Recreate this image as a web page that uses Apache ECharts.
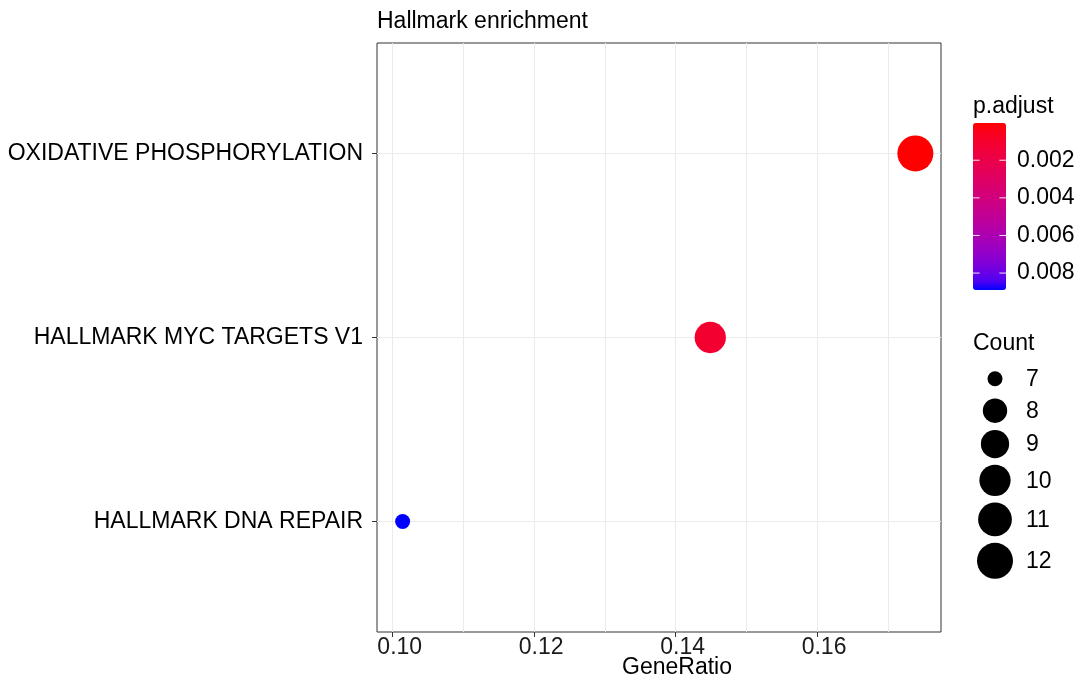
<!DOCTYPE html>
<html>
<head>
<meta charset="utf-8">
<script src="https://cdn.jsdelivr.net/npm/echarts@6/dist/echarts.min.js"></script>
<style>
html,body{margin:0;padding:0;background:#fff;}
#chart{width:1090px;height:680px;}
</style>
</head>
<body>
<div id="chart"></div>
<script>
// ---- data ----
const categories = ['HALLMARK DNA REPAIR', 'HALLMARK MYC TARGETS V1', 'OXIDATIVE PHOSPHORYLATION'];
const geneRatio = [0.1014, 0.1449, 0.1739];
const counts = [7, 10, 12];
const pAdjust = [0.0089, 0.0011, 0.00002];
const xTicks = [0.10, 0.12, 0.14, 0.16];
const xMinorTicks = [0.11, 0.13, 0.15, 0.17];
const pTicks = [0.002, 0.004, 0.006, 0.008];
const countBreaks = [7, 8, 9, 10, 11, 12];
const titleText = 'Hallmark enrichment';

// ---- colour scale (Lab interpolation red -> blue, like ggplot) ----
function s2l(c){c/=255;return c<=0.04045?c/12.92:Math.pow((c+0.055)/1.055,2.4);}
function l2s(c){c=c<=0.0031308?12.92*c:1.055*Math.pow(c,1/2.4)-0.055;return Math.round(Math.max(0,Math.min(1,c))*255);}
const Xn=0.95047,Yn=1,Zn=1.08883;
function f(t){return t>0.008856?Math.cbrt(t):7.787*t+16/116;}
function fi(t){return t>0.206893?t*t*t:(t-16/116)/7.787;}
function rgb2lab(rgb){
  const r=s2l(rgb[0]),g=s2l(rgb[1]),b=s2l(rgb[2]);
  const X=0.4124*r+0.3576*g+0.1805*b, Y=0.2126*r+0.7152*g+0.0722*b, Z=0.0193*r+0.1192*g+0.9505*b;
  const fx=f(X/Xn),fy=f(Y/Yn),fz=f(Z/Zn);
  return [116*fy-16,500*(fx-fy),200*(fy-fz)];
}
function lab2rgb(lab){
  const fy=(lab[0]+16)/116, fx=fy+lab[1]/500, fz=fy-lab[2]/200;
  const X=Xn*fi(fx),Y=Yn*fi(fy),Z=Zn*fi(fz);
  const r=3.2406*X-1.5372*Y-0.4986*Z, g=-0.9689*X+1.8758*Y+0.0415*Z, b=0.0557*X-0.2040*Y+1.0570*Z;
  return 'rgb('+l2s(r)+','+l2s(g)+','+l2s(b)+')';
}
const labLow=rgb2lab([255,0,0]), labHigh=rgb2lab([0,0,255]);
const colorStops=[];
for(let i=0;i<=20;i++){const t=i/20;colorStops.push(lab2rgb([0,1,2].map(k=>labLow[k]+(labHigh[k]-labLow[k])*t)));}

// ---- scales ----
const pMin=Math.min(...pAdjust), pMax=Math.max(...pAdjust);
const cMin=Math.min(...counts), cMax=Math.max(...counts);
const dMin=15, dMax=36;
function sizeOf(c){return dMin+Math.sqrt((c-cMin)/(cMax-cMin))*(dMax-dMin);}
const xr=[Math.min(...geneRatio),Math.max(...geneRatio)];
const xpad=(xr[1]-xr[0])*0.05;

const points=categories.map((c,i)=>[geneRatio[i], i+1, pAdjust[i], counts[i], c]);

const font='"Liberation Sans", Arial, sans-serif';
const FS=23;

// ---- size legend (graphic) ----
const legendGraphics=[];
let y=378.7, prevH=null;
countBreaks.forEach((c,i)=>{
  const d=sizeOf(c);
  const h=Math.max(d+6.5,32);
  if(prevH!==null) y+= (prevH+h)/2;
  prevH=h;
  legendGraphics.push({type:'circle',shape:{cx:995,cy:y,r:d/2},style:{fill:'#000'},silent:true});
  legendGraphics.push({type:'text',x:1026,y:y+1,style:{text:String(c),font:FS+'px '+font,fill:'#000',textVerticalAlign:'middle'},silent:true});
});

const chart=echarts.init(document.getElementById('chart'),null,{renderer:'canvas'});
chart.setOption({
  animation:false,
  backgroundColor:'#fff',
  grid:[
    {left:377,right:149,top:43,bottom:48,show:true,borderColor:'#333',borderWidth:1,backgroundColor:'transparent',containLabel:false,outerBoundsMode:'none'},
    {left:973,top:123,width:33,height:167,show:false,containLabel:false,outerBoundsMode:'none'}
  ],
  xAxis:[
    {type:'value',gridIndex:0,min:xr[0]-xpad,max:xr[1]+xpad,
     axisLine:{show:false},
     axisTick:{show:true,length:5,lineStyle:{color:'#333'},customValues:xTicks},
     axisLabel:{customValues:xTicks,formatter:v=>v.toFixed(2),fontSize:FS,fontFamily:font,color:'#1a1a1a',margin:4,padding:[0,0,0,14]},
     splitLine:{show:false},
     name:'GeneRatio',nameLocation:'middle',nameGap:24,nameMoveOverlap:false,
     nameTextStyle:{fontSize:FS,fontFamily:font,color:'#000',padding:[0,0,0,36]}},
    {type:'value',gridIndex:1,show:false,min:0,max:1}
  ],
  yAxis:[
    {type:'value',gridIndex:0,min:0.4,max:3.6,
     axisLine:{show:false},
     axisTick:{show:true,length:5,lineStyle:{color:'#333'},customValues:[1,2,3]},
     axisLabel:{customValues:[1,2,3],formatter:v=>categories[Math.round(v)-1]||'',fontSize:FS,fontFamily:font,color:'#000',margin:14,padding:[8,0,0,0]},
     splitLine:{show:false}},
    {type:'value',gridIndex:1,min:pMin,max:pMax,inverse:true,position:'right',z:10,
     axisLine:{show:false},
     axisTick:{show:false},
     axisLabel:{customValues:pTicks,formatter:v=>v.toFixed(3),fontSize:FS,fontFamily:font,color:'#000',margin:11,padding:[4,0,0,0]},
     splitLine:{show:false}}
  ],
  visualMap:[{
    type:'continuous',show:true,seriesIndex:1,dimension:2,min:pMin,max:pMax,inverse:true,
    left:973,top:123,itemWidth:33,itemHeight:167,padding:0,calculable:false,hoverLink:false,
    text:null,showLabel:false,inRange:{color:colorStops},orient:'vertical',z:2
  }],
  series:[
    {type:'line',xAxisIndex:0,yAxisIndex:0,data:[],z:1,silent:true,
     markLine:{silent:true,z:1,symbol:['none','none'],label:{show:false},animation:false,
       lineStyle:{color:'#ebebeb',width:1,type:'solid'},
       data:[...xTicks,...xMinorTicks].map(v=>({xAxis:v})).concat([1,2,3].map(v=>({yAxis:v})))}},
    {type:'scatter',xAxisIndex:0,yAxisIndex:0,data:points,z:10,
     encode:{x:0,y:1},
     symbolSize:v=>sizeOf(v[3]),
     itemStyle:{opacity:1}},
    {type:'custom',xAxisIndex:1,yAxisIndex:1,data:pTicks.map(v=>[0,v]),z:20,silent:true,
     encode:{x:0,y:1},
     renderItem:function(params,api){
       const p0=api.coord([0,api.value(1)]), p1=api.coord([1,api.value(1)]);
       const w=(p1[0]-p0[0])/5;
       return {type:'group',children:[
         {type:'line',shape:{x1:p0[0],y1:p0[1],x2:p0[0]+w,y2:p0[1]},style:{stroke:'#fff',lineWidth:1,opacity:0.9}},
         {type:'line',shape:{x1:p1[0]-w,y1:p1[1],x2:p1[0],y2:p1[1]},style:{stroke:'#fff',lineWidth:1,opacity:0.9}}
       ]};
     }}
  ],
  graphic:[
    {type:'text',x:377,y:22,style:{text:titleText,font:FS+'px '+font,fill:'#000',textVerticalAlign:'middle'},silent:true},
    {type:'text',x:973,y:107,style:{text:'p.adjust',font:FS+'px '+font,fill:'#000',textVerticalAlign:'middle'},silent:true},
    {type:'text',x:973,y:344,style:{text:'Count',font:FS+'px '+font,fill:'#000',textVerticalAlign:'middle'},silent:true}
  ].concat(legendGraphics)
});
</script>
</body>
</html>
